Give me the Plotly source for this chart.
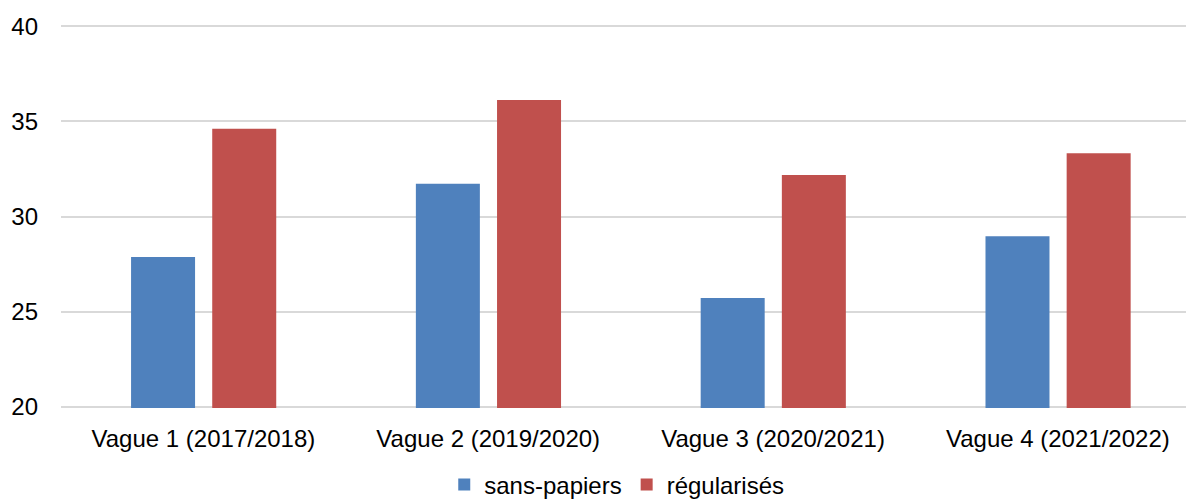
import plotly.graph_objects as go

categories = ["Vague 1 (2017/2018)", "Vague 2 (2019/2020)", "Vague 3 (2020/2021)", "Vague 4 (2021/2022)"]
sans_papiers = [27.87, 31.72, 25.72, 28.96]
regularises = [34.62, 36.12, 32.18, 33.32]
y_ticks = [20, 25, 30, 35, 40]

FONT = "Liberation Sans, Arial, Helvetica, sans-serif"

fig = go.Figure()
fig.add_trace(go.Bar(x=categories, y=sans_papiers, name="sans-papiers",
                     marker=dict(color="#4F81BD", line=dict(width=0)),
                     width=0.2247, offset=-0.254))
fig.add_trace(go.Bar(x=categories, y=regularises, name="régularisés",
                     marker=dict(color="#C0504D", line=dict(width=0)),
                     width=0.2247, offset=0.031))

fig.update_layout(
    width=1186, height=501,
    margin=dict(l=61, r=0, t=25, b=93, autoexpand=False),
    paper_bgcolor="white", plot_bgcolor="white",
    barmode="overlay",
    font=dict(family=FONT, size=24, color="#000000"),
    showlegend=True,
    legend=dict(orientation="h", x=0.494, xanchor="center",
                yref="container", y=0.032, yanchor="middle",
                font=dict(size=24), itemwidth=30, traceorder="normal",
                bgcolor="rgba(0,0,0,0)"),
    xaxis=dict(type="category", range=[-0.5, 3.45], showgrid=False, zeroline=False,
               showline=False, ticks="", ticklabelstandoff=14, automargin=False,
               tickfont=dict(size=24)),
    yaxis=dict(range=[19.93, 40.07], tickvals=y_ticks, showgrid=True, gridcolor="#D9D9D9",
               gridwidth=1.5, zeroline=False, showline=False, ticks="", automargin=False,
               ticklabelstandoff=22, tickfont=dict(size=24)),
)

fig.write_html("out.html")
